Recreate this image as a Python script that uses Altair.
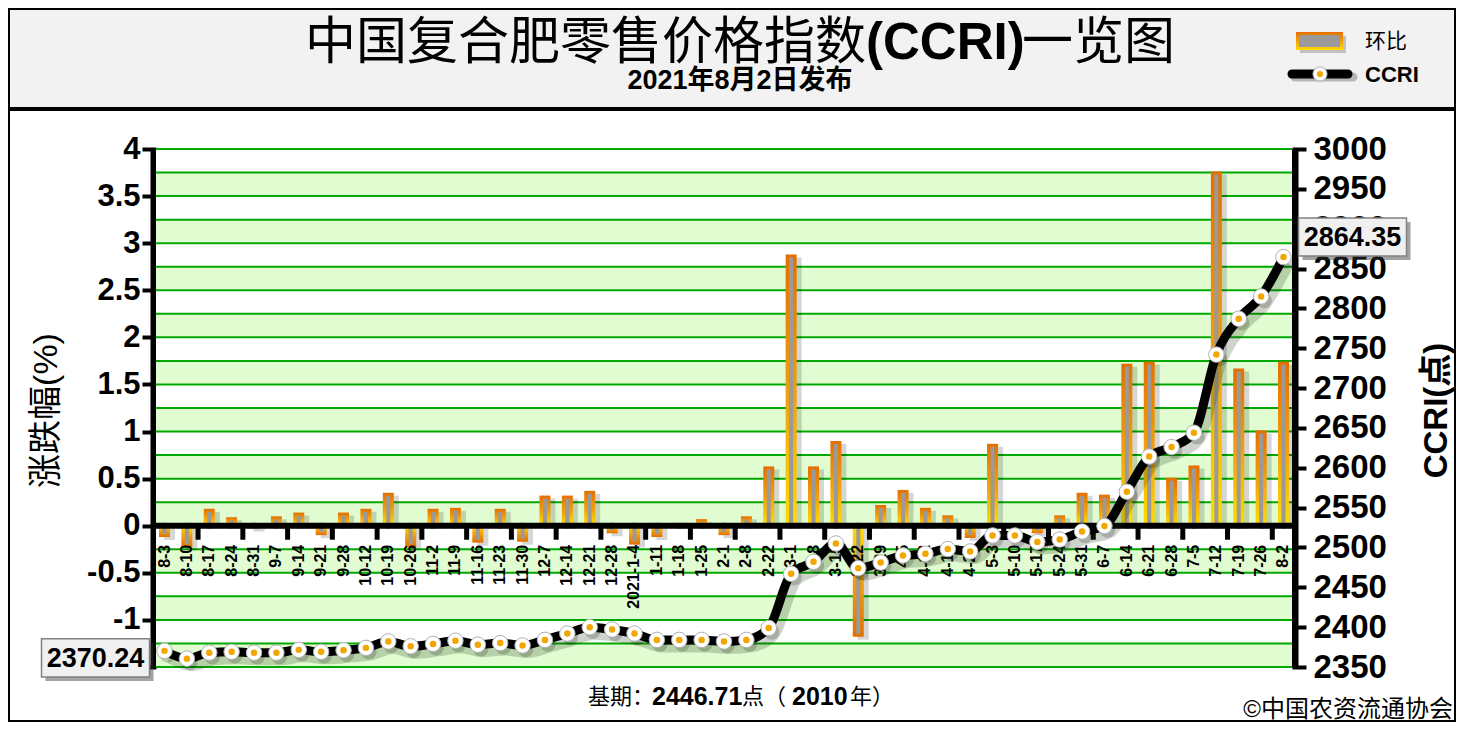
import altair as alt
import pandas as pd

# ---------------- data ----------------
dates = ["8-3", "8-10", "8-17", "8-24", "8-31", "9-7", "9-14", "9-21", "9-28", "10-12",
         "10-19", "10-26", "11-2", "11-9", "11-16", "11-23", "11-30", "12-7", "12-14", "12-21",
         "12-28", "2021-1-4", "1-11", "1-18", "1-25", "2-1", "2-8", "2-22", "3-1", "3-8",
         "3-15", "3-22", "3-29", "4-5", "4-12", "4-19", "4-26", "5-3", "5-10", "5-17",
         "5-24", "5-31", "6-7", "6-14", "6-21", "6-28", "7-5", "7-12", "7-19", "7-26", "8-2"]

change = [-0.12, -0.23, 0.18, 0.09, -0.03, 0.10, 0.14, -0.10, 0.14, 0.18,
          0.35, -0.23, 0.18, 0.19, -0.18, 0.18, -0.17, 0.32, 0.32, 0.37,
          -0.08, -0.20, -0.12, 0.03, 0.07, -0.10, 0.10, 0.63, 2.88, 0.63,
          0.90, -1.18, 0.22, 0.38, 0.19, 0.11, -0.13, 0.87, 0.01, -0.08,
          0.11, 0.35, 0.33, 1.72, 1.74, 0.51, 0.64, 3.76, 1.67, 1.01, 1.74]

ccri = [2370.24, 2360.5, 2368, 2369, 2368, 2368, 2371.5, 2369, 2371, 2374,
        2382, 2376, 2379, 2383, 2378, 2380, 2377, 2384, 2392, 2400,
        2397, 2392, 2384, 2384, 2384, 2382, 2384, 2399, 2467, 2482,
        2505, 2474, 2481, 2490, 2492, 2498, 2495, 2515, 2515, 2507,
        2510, 2520, 2527, 2570, 2614, 2626, 2644, 2742, 2787, 2815, 2864.35]

left_ticks = [-1.5, -1, -0.5, 0, 0.5, 1, 1.5, 2, 2.5, 3, 3.5, 4]
right_ticks = [2350, 2400, 2450, 2500, 2550, 2600, 2650, 2700, 2750, 2800, 2850, 2900, 2950, 3000]
grid_levels = [-1.5, -1.25, -1.0, -0.75, -0.5, -0.25, 0.0, 0.25, 0.5, 0.75, 1.0, 1.25,
               1.5, 1.75, 2.0, 2.25, 2.5, 2.75, 3.0, 3.25, 3.5, 3.75, 4.0]
band_lo = [-1.5, -1.0, -0.5, 0.0, 0.5, 1.0, 1.5, 2.0, 2.5, 3.0, 3.5]
band_hi = [-1.25, -0.75, -0.25, 0.25, 0.75, 1.25, 1.75, 2.25, 2.75, 3.25, 3.75]

title_left = "中国复合肥零售价格指数"
title_mid = "(CCRI)"
title_right = "一览图"
subtitle = "2021年8月2日发布"
base_parts = ["基期：", "2446.71", "点（", "2010", "年）"]
copyright_txt = "©中国农资流通协会"

# ---------------- layout constants ----------------
W, H = 1136, 518
Y0 = H * 4 / 5.5          # pixel row of the zero line
STEP = W / (50 + 2 * 0.38)
LAT = "Liberation Sans, Arial, Noto Sans CJK SC, sans-serif"
CJK = "Noto Sans CJK SC, sans-serif"

df = pd.DataFrame({"date": dates, "chg": change, "ccri": ccri, "idx": list(range(len(dates)))})
bands_df = pd.DataFrame({"lo": band_lo, "hi": band_hi})
grid_df = pd.DataFrame({"v": grid_levels})
zero_df = pd.DataFrame({"v": [0.0]})
one = pd.DataFrame({"k": [0]})

xs = alt.Scale(type="point", domain=dates, padding=0.38)
X = alt.X("date:N", scale=xs, axis=None)
yl = alt.Scale(domain=[-1.5, 4], nice=False, zero=False)
yr = alt.Scale(domain=[2350, 3000], nice=False, zero=False)

YLAX = alt.Axis(orient="left", values=left_ticks, labelExpr="'' + datum.value",
                labelFont=LAT, labelFontSize=31, labelFontWeight="bold", labelColor="black",
                labelPadding=2, tickSize=14, tickWidth=4, tickColor="black",
                domainColor="black", domainWidth=12, grid=False,
                title="涨跌幅(%)", titleFont=LAT, titleFontSize=34, titleFontWeight="normal",
                titleColor="black", titleAngle=270, titleX=-110, titleY=261,
                titleAlign="center", titleBaseline="middle")
YRAX = alt.Axis(orient="right", values=right_ticks, labelExpr="'' + datum.value",
                labelFont=LAT, labelFontSize=33, labelFontWeight="bold", labelColor="black",
                labelPadding=7, tickSize=14, tickWidth=4, tickColor="black",
                domainColor="black", domainWidth=12, grid=False,
                title="CCRI(点)", titleFont=LAT, titleFontSize=33, titleFontWeight="bold",
                titleColor="black", titleAngle=270, titleX=144, titleY=261,
                titleAlign="center", titleBaseline="middle")


def YL(field):
    return alt.Y(field, scale=yl, axis=YLAX)


def YR(field):
    return alt.Y(field, scale=yr, axis=YRAX)


def grad(up=True):
    stops = [alt.GradientStop(color="#e46f00", offset=0),
             alt.GradientStop(color="#f2a30c", offset=0.55),
             alt.GradientStop(color="#ffdd00", offset=1)]
    if up:
        return alt.LinearGradient(gradient="linear", stops=stops, x1=0, x2=0, y1=0, y2=1)
    return alt.LinearGradient(gradient="linear", stops=stops, x1=0, x2=0, y1=1, y2=0)


base = alt.Chart(df)
pos = base.transform_filter("datum.chg >= 0")
neg = base.transform_filter("datum.chg < 0")

# ---------------- left (percentage) layers ----------------
bg = alt.Chart(one).mark_rect(color="white").encode(
    x=alt.value(0), x2=alt.value(W), y=alt.value(0), y2=alt.value(H))
bands = alt.Chart(bands_df).mark_rect(color="#e1fcd1").encode(
    y=YL("lo:Q"), y2="hi:Q", x=alt.value(0), x2=alt.value(W))
grid = alt.Chart(grid_df).mark_rule(color="#00a800", strokeWidth=2).encode(
    y=YL("v:Q"), x=alt.value(0), x2=alt.value(W))
bar_sh = base.mark_bar(size=11, color="#000000", opacity=0.16, xOffset=5, yOffset=3).encode(
    x=X, y=YL("chg:Q"))
bars_p = pos.mark_bar(size=11, color=grad(True)).encode(x=X, y=YL("chg:Q"))
bars_n = neg.mark_bar(size=11, color=grad(False)).encode(x=X, y=YL("chg:Q"))
inner_p = pos.mark_bar(size=4, color="#9a9a9a", yOffset=3).encode(x=X, y=YL("chg:Q"))
inner_n = neg.mark_bar(size=4, color="#9a9a9a", yOffset=-3).encode(x=X, y=YL("chg:Q"))
zero = alt.Chart(zero_df).mark_rule(color="black", strokeWidth=6).encode(
    y=YL("v:Q"), x=alt.value(0), x2=alt.value(W))
xticks = base.transform_filter("datum.idx % 2 == 1 && datum.idx < 50").mark_rule(
    color="black", strokeWidth=5, xOffset=STEP / 2).encode(
    x=X, y=alt.value(Y0), y2=alt.value(Y0 + 14))
xlabels = base.mark_text(angle=270, align="right", baseline="middle", font=LAT,
                         fontSize=16, fontWeight="bold", color="black").encode(
    x=X, y=alt.value(Y0 + 19), text="date:N")

left = alt.layer(bg, bands, grid, bar_sh, bars_p, bars_n, inner_p, inner_n, zero, xticks, xlabels)

# ---------------- right (CCRI) layers ----------------
line_sh = base.mark_line(color="#1f3a10", opacity=0.22, strokeWidth=11, interpolate="monotone",
                         xOffset=5, yOffset=7).encode(x=X, y=YR("ccri:Q"))
line = base.mark_line(color="black", strokeWidth=9, interpolate="monotone").encode(
    x=X, y=YR("ccri:Q"))
pt_sh = base.mark_point(filled=True, color="black", opacity=0.18, size=240,
                        xOffset=3, yOffset=4).encode(x=X, y=YR("ccri:Q"))
pt_w = base.mark_point(filled=True, fill="white", opacity=1, size=240, stroke="#b0b0b0",
                       strokeWidth=1).encode(x=X, y=YR("ccri:Q"))
pt_o = base.mark_point(filled=True, color="#f3a500", opacity=1, size=42).encode(
    x=X, y=YR("ccri:Q"))

BOX = "M-1,-0.352L1,-0.352L1,0.352L-1,0.352Z"
first = base.transform_filter("datum.idx == 0")
last = base.transform_filter("datum.idx == 50")


def box_layers(src, dx, dy):
    sh = src.mark_point(shape=BOX, size=108 * 108, filled=True, color="#333333", opacity=0.45,
                        xOffset=dx + 4, yOffset=dy + 4).encode(x=X, y=YR("ccri:Q"))
    bx = src.mark_point(shape=BOX, size=108 * 108, filled=True, fill="#f0f0f0", opacity=1,
                        stroke="#808080", strokeWidth=1.5,
                        xOffset=dx, yOffset=dy).encode(x=X, y=YR("ccri:Q"))
    tx = src.mark_text(font=LAT, fontSize=27, fontWeight="bold", color="black",
                       align="center", baseline="middle", dx=dx, dy=dy + 1).encode(
        x=X, y=YR("ccri:Q"), text=alt.Text("ccri:Q", format=".2f"))
    return [sh, bx, tx]


right = alt.layer(line_sh, line, pt_sh, pt_w, pt_o,
                  *box_layers(first, -69, 7), *box_layers(last, 69, -20))


# ---------------- decoration ----------------
def txt(s, x, y, size, weight="normal", font=LAT, align="center", baseline="middle"):
    return alt.Chart(one).mark_text(text=s, font=font, fontSize=size, fontWeight=weight,
                                    align=align, baseline=baseline, color="black").encode(
        x=alt.value(x), y=alt.value(y))


header = alt.Chart(one).mark_rect(color="#f2f2f2").encode(
    x=alt.value(-148), x2=alt.value(1300), y=alt.value(-141), y2=alt.value(-40))
header_line = alt.Chart(one).mark_rule(color="black", strokeWidth=4).encode(
    x=alt.value(-148), x2=alt.value(1300), y=alt.value(-40))
border = alt.Chart(one).mark_rect(fillOpacity=0, stroke="black", strokeWidth=2).encode(
    x=alt.value(-147), x2=alt.value(1299), y=alt.value(-140), y2=alt.value(572))

t1 = txt(title_left, 149, -90, 51, font=CJK, align="left", baseline="alphabetic")
t2 = txt(title_mid, 710, -90, 51, weight="bold", align="left", baseline="alphabetic")
t3 = txt(title_right, 866, -90, 51, font=CJK, align="left", baseline="alphabetic")
st = txt(subtitle, 584, -68, 27, weight="bold")

leg_sh = alt.Chart(one).mark_rect(color="#000000", opacity=0.2).encode(
    x=alt.value(1144), x2=alt.value(1190), y=alt.value(-113), y2=alt.value(-96))
leg_out = alt.Chart(one).mark_rect(color=grad(True)).encode(
    x=alt.value(1140), x2=alt.value(1187), y=alt.value(-117), y2=alt.value(-99))
leg_in = alt.Chart(one).mark_rect(color="#9a9a9a").encode(
    x=alt.value(1143), x2=alt.value(1184), y=alt.value(-114), y2=alt.value(-102))
leg_lsh = alt.Chart(one).mark_rule(color="black", opacity=0.25, strokeWidth=9,
                                   strokeCap="round").encode(
    x=alt.value(1139), x2=alt.value(1197), y=alt.value(-72))
leg_line = alt.Chart(one).mark_rule(color="black", strokeWidth=9, strokeCap="round").encode(
    x=alt.value(1136), x2=alt.value(1192), y=alt.value(-75))
leg_pw = alt.Chart(one).mark_point(filled=True, fill="white", opacity=1, size=200,
                                   stroke="#b0b0b0", strokeWidth=1).encode(
    x=alt.value(1164), y=alt.value(-75))
leg_po = alt.Chart(one).mark_point(filled=True, color="#f3a500", opacity=1, size=38).encode(
    x=alt.value(1164), y=alt.value(-75))
leg_t1 = txt("环比", 1209, -107, 21, font=CJK, align="left")
leg_t2 = txt("CCRI", 1209, -74, 22, weight="bold", align="left")

bx_pos = [432, 496, 586, 636, 694]
bx_w = ["normal", "bold", "normal", "bold", "normal"]
bx_s = [22, 25, 22, 25, 22]
base_txt = [txt(s, xp, 548, fs, weight=w, align="left")
            for s, xp, w, fs in zip(base_parts, bx_pos, bx_w, bx_s)]
copy_t = txt(copyright_txt, 1297, 561, 24, align="right")

chart = alt.layer(
    header, header_line, t1, t2, t3, st,
    leg_sh, leg_out, leg_in, leg_lsh, leg_line, leg_pw, leg_po, leg_t1, leg_t2,
    left, right,
    *base_txt, copy_t, border,
).resolve_scale(y="independent").properties(
    width=W, height=H, autosize="none",
    padding={"left": 148, "top": 141, "right": 164, "bottom": 55},
    background="white",
).configure_view(strokeWidth=0)

chart.save("out.html", embed_options={"renderer": "svg", "actions": False})
